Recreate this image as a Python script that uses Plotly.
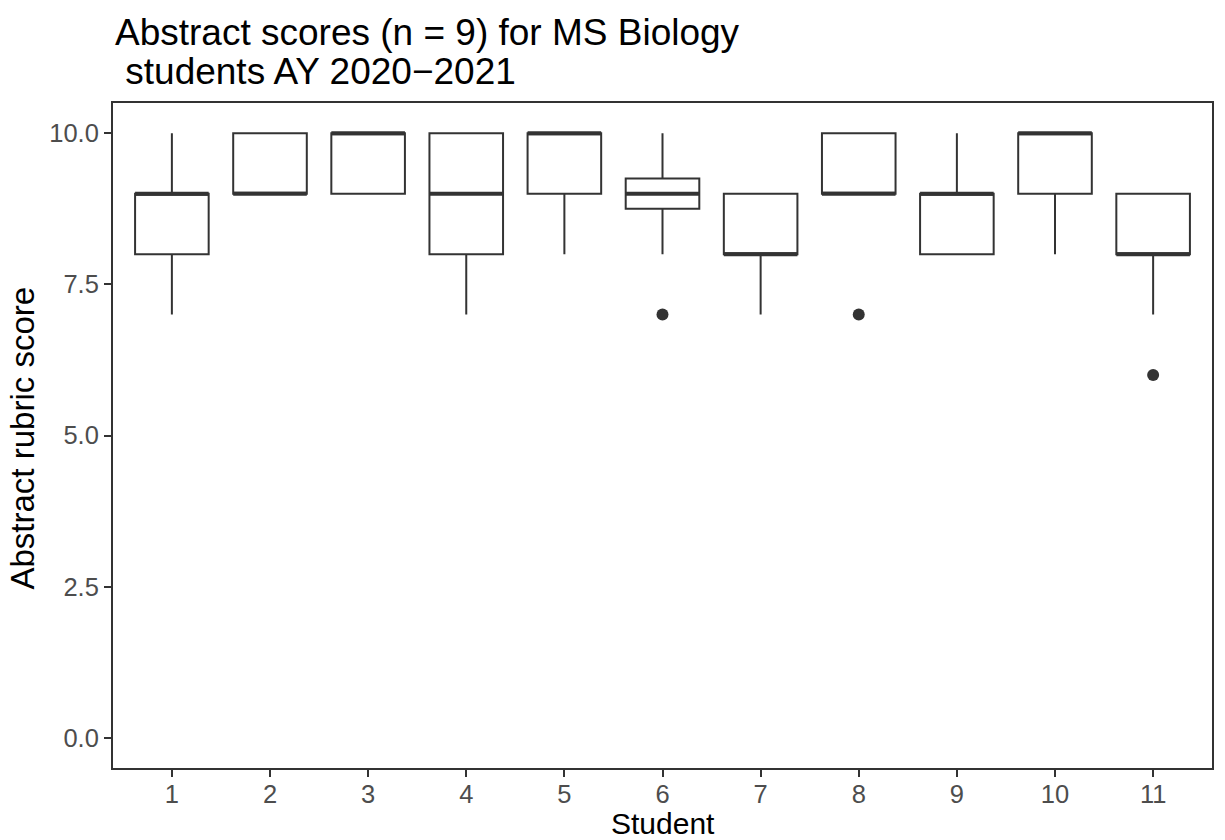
import plotly.graph_objects as go

students = [1, 2, 3, 4, 5, 6, 7, 8, 9, 10, 11]
q1 = [8, 9, 9, 8, 9, 8.75, 8, 9, 8, 9, 8]
median = [9, 9, 10, 9, 10, 9, 8, 9, 9, 10, 8]
q3 = [9, 10, 10, 10, 10, 9.25, 9, 10, 9, 10, 9]
lower = [7, 9, 9, 7, 8, 8, 7, 9, 8, 8, 7]
upper = [10, 10, 10, 10, 10, 10, 9, 10, 10, 10, 9]
outlier_x = [6, 8, 11]
outlier_y = [7, 7, 6]

title_lines = ["Abstract scores (n = 9) for MS Biology", "\u00a0students AY 2020\u22122021"]
x_title = "Student"
y_title = "Abstract rubric score"

BOX_W = 0.75
DARK = "#333333"
FONT = "Liberation Sans, Arial, Helvetica, sans-serif"

fig = go.Figure()
fig.add_trace(go.Box(
    x=students, q1=q1, median=median, q3=q3,
    lowerfence=lower, upperfence=upper,
    width=BOX_W, fillcolor="white",
    line=dict(color=DARK, width=2),
    whiskerwidth=0, boxpoints=False, showlegend=False,
    hoverinfo="skip",
))

# thick median lines (ggplot fatten = 2)
mx, my = [], []
for s, m in zip(students, median):
    mx += [s - BOX_W / 2, s + BOX_W / 2, None]
    my += [m, m, None]
fig.add_trace(go.Scatter(x=mx, y=my, mode="lines",
                         line=dict(color=DARK, width=4),
                         showlegend=False, hoverinfo="skip"))

fig.add_trace(go.Scatter(x=outlier_x, y=outlier_y, mode="markers",
                         marker=dict(color=DARK, size=12),
                         showlegend=False, hoverinfo="skip"))

annotations = [
    dict(text=title_lines[0], xref="paper", x=0, xanchor="left", xshift=0,
         yref="paper", y=1, yanchor="middle", yshift=71,
         showarrow=False, font=dict(size=37, color="black")),
    dict(text=title_lines[1], xref="paper", x=0, xanchor="left", xshift=0,
         yref="paper", y=1, yanchor="middle", yshift=32,
         showarrow=False, font=dict(size=37, color="black")),
    dict(text=x_title, xref="paper", x=0.5, xanchor="center",
         yref="paper", y=0, yanchor="middle", yshift=-55, borderpad=0,
         showarrow=False, font=dict(size=30, color="black")),
    dict(text=y_title, xref="paper", x=0, xanchor="center", xshift=-91,
         yref="paper", y=0.5, yanchor="middle", yshift=-3, textangle=-90,
         showarrow=False, font=dict(size=33, color="black")),
]

fig.update_layout(
    width=1225, height=840,
    margin=dict(l=113, r=13, t=103, b=72),
    paper_bgcolor="white", plot_bgcolor="white",
    font=dict(family=FONT, color="black"),
    annotations=annotations,
)
fig.update_xaxes(
    range=[0.4, 11.6], tickvals=students, ticktext=[str(s) for s in students],
    showgrid=False, zeroline=False, automargin=False,
    showline=True, mirror=True, linecolor=DARK, linewidth=2,
    ticks="outside", ticklen=7, tickwidth=2, tickcolor=DARK,
    tickfont=dict(size=25.5, color="#4D4D4D"), ticklabelstandoff=-5,
)
fig.update_yaxes(
    range=[-0.5, 10.5], tickvals=[0, 2.5, 5, 7.5, 10],
    ticktext=["0.0", "2.5", "5.0", "7.5", "10.0"],
    showgrid=False, zeroline=False, automargin=False,
    showline=True, mirror=True, linecolor=DARK, linewidth=2,
    ticks="outside", ticklen=7, tickwidth=2, tickcolor=DARK,
    tickfont=dict(size=25.5, color="#4D4D4D"),
)

fig.write_html(
    "out.html",
    config={"displayModeBar": False},
    post_script="document.body.style.margin='0';document.body.style.overflow='hidden';",
)
